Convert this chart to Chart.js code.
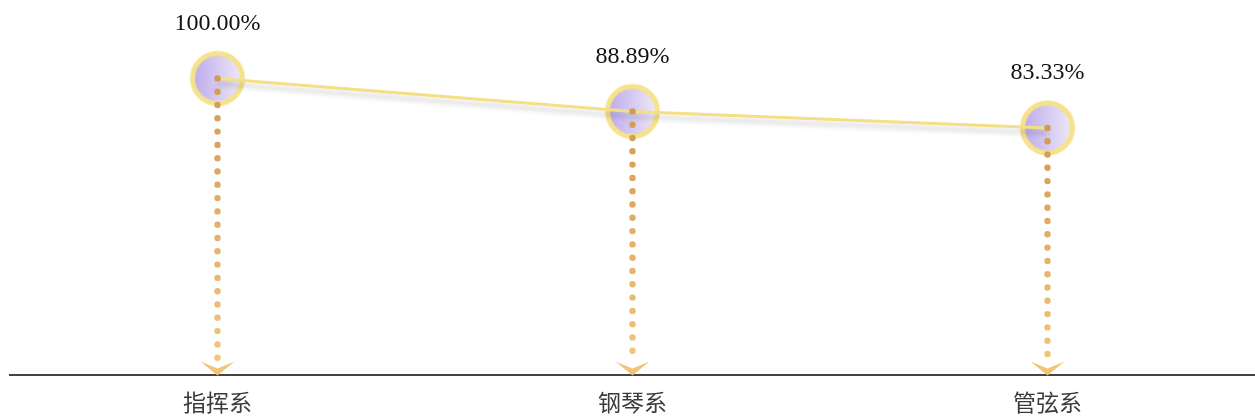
<!DOCTYPE html>
<html>
<head>
<meta charset="utf-8">
<script src="https://cdn.jsdelivr.net/npm/chart.js@4/dist/chart.umd.min.js"></script>
<style>
    html, body { margin: 0; padding: 0; background: #ffffff; }
    #wrap { width: 1255px; height: 419px; position: relative; }
</style>
</head>
<body>
<div id="wrap"><canvas id="rateChart"></canvas></div>
<script>
// Chart data
const categories = ['指挥系', '钢琴系', '管弦系'];
const rates = [100.00, 88.89, 83.33];

// Point marker: purple gradient circle with a yellow ring
function makeMarker() {
    const size = 62;
    const c = document.createElement('canvas');
    c.width = size;
    c.height = size;
    const g = c.getContext('2d');
    const grad = g.createLinearGradient(5, 0, size - 5, 0);
    grad.addColorStop(0, '#bca9ec');
    grad.addColorStop(1, '#efebf8');
    g.beginPath();
    g.arc(size / 2, size / 2, 25, 0, Math.PI * 2);
    g.fillStyle = grad;
    g.fill();
    g.lineWidth = 5;
    g.strokeStyle = '#f6e28a';
    g.stroke();
    return c;
}
const marker = makeMarker();

// Line shadow
const shadowPlugin = {
    id: 'lineShadow',
    beforeDatasetDraw(chart, args) {
        if (args.index !== 0) return;
        const ctx = chart.ctx;
        ctx.save();
        ctx.shadowColor = 'rgba(0, 0, 0, 0.18)';
        ctx.shadowBlur = 5;
        ctx.shadowOffsetY = 5;
    },
    afterDatasetDraw(chart, args) {
        if (args.index !== 0) return;
        chart.ctx.restore();
    }
};

// Dotted drop lines, arrow heads and value labels
const dropPlugin = {
    id: 'dropLines',
    afterDatasetsDraw(chart) {
        const ctx = chart.ctx;
        const x = chart.scales.x;
        const y = chart.scales.y;
        const base = y.getPixelForValue(0);
        ctx.save();
        rates.forEach((v, i) => {
            const px = x.getPixelForValue(i);
            const py = y.getPixelForValue(v);
            const grad = ctx.createLinearGradient(0, py, 0, base);
            grad.addColorStop(0, '#d39a52');
            grad.addColorStop(1, '#f2c97e');
            ctx.fillStyle = grad;
            for (let dy = py; dy < base - 12; dy += 13.3) {
                ctx.beginPath();
                ctx.arc(px, dy, 3.2, 0, Math.PI * 2);
                ctx.fill();
            }
            // chevron
            ctx.fillStyle = '#f0c578';
            ctx.beginPath();
            ctx.moveTo(px - 17, base - 14);
            ctx.lineTo(px, base - 7);
            ctx.lineTo(px + 17, base - 14);
            ctx.lineTo(px, base);
            ctx.closePath();
            ctx.fill();

            ctx.fillStyle = '#111111';
            ctx.font = '24px "Liberation Serif", "Times New Roman", serif';
            ctx.textAlign = 'center';
            ctx.textBaseline = 'middle';
            ctx.fillText(v.toFixed(2) + '%', px, py - 55);
        });
        ctx.restore();
    }
};

new Chart(document.getElementById('rateChart'), {
    type: 'line',
    data: {
        labels: categories,
        datasets: [
            {
                data: rates,
                borderColor: '#f4df86',
                borderWidth: 3,
                pointRadius: 0,
                tension: 0,
                fill: false
            },
            {
                data: rates,
                showLine: false,
                pointStyle: marker,
                pointRadius: 31
            }
        ]
    },
    options: {
        responsive: true,
        maintainAspectRatio: false,
        animation: false,
        events: [],
        clip: false,
        layout: { autoPadding: false, padding: { left: 10, right: 0, top: 19, bottom: -10 } },
        plugins: {
            legend: { display: false },
            tooltip: { enabled: false }
        },
        scales: {
            x: {
                offset: true,
                grid: { display: false, drawTicks: false },
                border: { display: true, color: '#444444', width: 2 },
                ticks: {
                    padding: 13,
                    color: '#3a3a3a',
                    font: { family: '"Noto Sans CJK SC", sans-serif', size: 23 }
                }
            },
            y: {
                display: false,
                min: 0,
                max: 120
            }
        }
    },
    plugins: [shadowPlugin, dropPlugin]
});
</script>
</body>
</html>
